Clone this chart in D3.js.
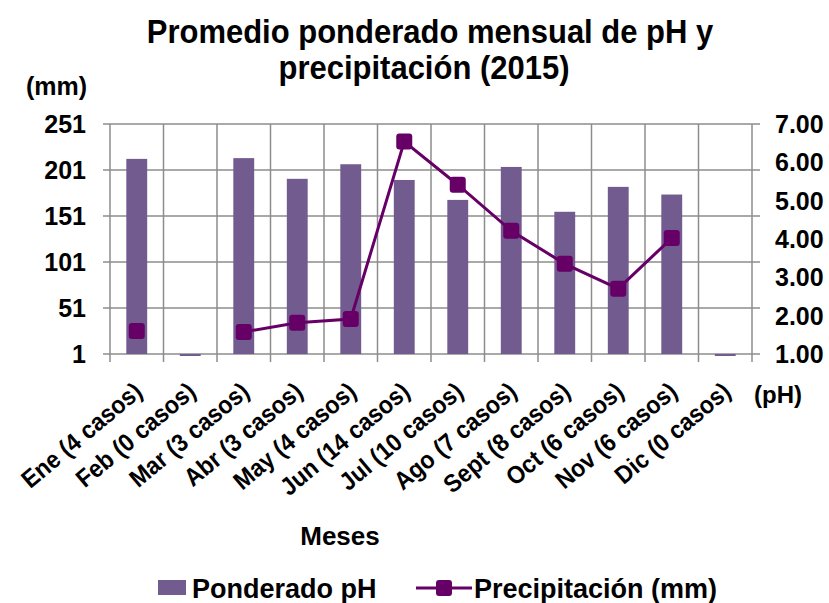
<!DOCTYPE html>
<html>
<head>
<meta charset="utf-8">
<script src="https://cdn.jsdelivr.net/npm/d3@7"></script>
<style>
  body { margin: 0; background: #fff; }
  svg text { font-family: 'Liberation Sans', Arial, sans-serif; font-weight: bold; fill: #000; }
</style>
</head>
<body>
<svg id="chart" width="829" height="603"></svg>
<script>
// Months with number of cases
const months = ['Ene (4 casos)', 'Feb (0 casos)', 'Mar (3 casos)', 'Abr (3 casos)', 'May (4 casos)',
  'Jun (14 casos)', 'Jul (10 casos)', 'Ago (7 casos)', 'Sept (8 casos)', 'Oct (6 casos)',
  'Nov (6 casos)', 'Dic (0 casos)'];
// Weighted pH (bars, right axis)
const phValues = [6.09, 0, 6.11, 5.57, 5.95, 5.54, 5.02, 5.88, 4.71, 5.36, 5.16, 0];
// Precipitation in mm (line, left axis); null = no cases
const rainValues = [26, null, 25, 35, 39, 232, 185, 135, 99, 72, 127, null];
const mmTicks = [1, 51, 101, 151, 201, 251];
const phTicks = [1, 2, 3, 4, 5, 6, 7];

const barColor = '#725b8f';
const lineColor = '#660066';
const gridColor = '#8c8c8c';

const svg = d3.select('#chart');
const plot = { left: 110, right: 752, top: 124, bottom: 354 };

const x = d3.scaleBand().domain(months).range([plot.left, plot.right]);
const yMm = d3.scaleLinear().domain([1, 251]).range([plot.bottom, plot.top]);
const yPh = d3.scaleLinear().domain([1, 7]).range([plot.bottom, plot.top]);

// Horizontal gridlines
svg.append('g')
  .selectAll('line')
  .data(mmTicks)
  .enter()
  .append('line')
  .attr('x1', plot.left - 7)
  .attr('x2', plot.right + 8)
  .attr('y1', (d) => yMm(d))
  .attr('y2', (d) => yMm(d))
  .attr('stroke', gridColor)
  .attr('stroke-width', 1.5);

// Vertical gridlines at category boundaries (with tick below axis)
const bounds = months.map((m) => x(m)).concat([plot.right]);
svg.append('g')
  .selectAll('line')
  .data(bounds)
  .enter()
  .append('line')
  .attr('x1', (d) => d)
  .attr('x2', (d) => d)
  .attr('y1', plot.top)
  .attr('y2', plot.bottom + 8)
  .attr('stroke', gridColor)
  .attr('stroke-width', 1.5);

// Bars (pH)
const barW = x.bandwidth() * 0.39;
svg.append('g')
  .selectAll('rect')
  .data(months.map((m, i) => ({ m, v: phValues[i] })))
  .enter()
  .append('rect')
  .attr('x', (d) => x(d.m) + (x.bandwidth() - barW) / 2)
  .attr('y', (d) => (d.v > 1 ? yPh(d.v) : plot.bottom))
  .attr('width', barW)
  .attr('height', (d) => (d.v > 1 ? plot.bottom - yPh(d.v) : 2))
  .attr('fill', barColor);

// Precipitation line
const pts = months.map((m, i) => ({ m, v: rainValues[i] }));
const line = d3.line()
  .defined((d) => d.v !== null)
  .x((d) => x(d.m) + x.bandwidth() / 2)
  .y((d) => yMm(d.v));

svg.append('path')
  .datum(pts)
  .attr('d', line)
  .attr('fill', 'none')
  .attr('stroke', lineColor)
  .attr('stroke-width', 3);

svg.append('g')
  .selectAll('rect')
  .data(pts.filter((d) => d.v !== null))
  .enter()
  .append('rect')
  .attr('x', (d) => x(d.m) + x.bandwidth() / 2 - 8)
  .attr('y', (d) => yMm(d.v) - 8)
  .attr('width', 16)
  .attr('height', 16)
  .attr('rx', 3)
  .attr('fill', lineColor);

// Left axis labels (mm)
svg.append('g')
  .selectAll('text')
  .data(mmTicks)
  .enter()
  .append('text')
  .attr('x', 86)
  .attr('y', (d) => yMm(d))
  .attr('dy', '0.36em')
  .attr('text-anchor', 'end')
  .style('font-size', '25px')
  .text((d) => d);

// Right axis labels (pH)
svg.append('g')
  .selectAll('text')
  .data(phTicks)
  .enter()
  .append('text')
  .attr('x', 775)
  .attr('y', (d) => yPh(d))
  .attr('dy', '0.36em')
  .style('font-size', '25px')
  .text((d) => d3.format('.2f')(d));

// Category labels
svg.append('g')
  .selectAll('text')
  .data(months)
  .enter()
  .append('text')
  .attr('transform', (d) => `translate(${x(d) + x.bandwidth() / 2 + 7},${plot.bottom + 40}) rotate(-40) scale(1,1.08)`)
  .attr('text-anchor', 'end')
  .style('font-size', '23px')
  .text((d) => d);

// Titles
svg.append('text')
  .attr('transform', 'translate(430,43) scale(1,1.1)')
  .attr('text-anchor', 'middle')
  .style('font-size', '31px')
  .text('Promedio ponderado mensual de pH y');
svg.append('text')
  .attr('transform', 'translate(424,79) scale(1,1.1)')
  .attr('text-anchor', 'middle')
  .style('font-size', '31px')
  .text('precipitación (2015)');

svg.append('text').attr('x', 26).attr('y', 95).style('font-size', '25px').text('(mm)');
svg.append('text').attr('x', 754).attr('y', 403).style('font-size', '24px').text('(pH)');
svg.append('text').attr('x', 340).attr('y', 545).attr('text-anchor', 'middle').style('font-size', '26px').text('Meses');

// Legend
const legend = svg.append('g');
legend.append('rect').attr('x', 158).attr('y', 580).attr('width', 28).attr('height', 15).attr('fill', barColor);
legend.append('text').attr('x', 192).attr('y', 598).style('font-size', '27px').text('Ponderado pH');
legend.append('line').attr('x1', 416).attr('x2', 472).attr('y1', 588).attr('y2', 588)
  .attr('stroke', lineColor).attr('stroke-width', 3);
legend.append('rect').attr('x', 436).attr('y', 580).attr('width', 16).attr('height', 16).attr('rx', 3).attr('fill', lineColor);
legend.append('text').attr('x', 474).attr('y', 598).style('font-size', '27px').text('Precipitación (mm)');
</script>
</body>
</html>
